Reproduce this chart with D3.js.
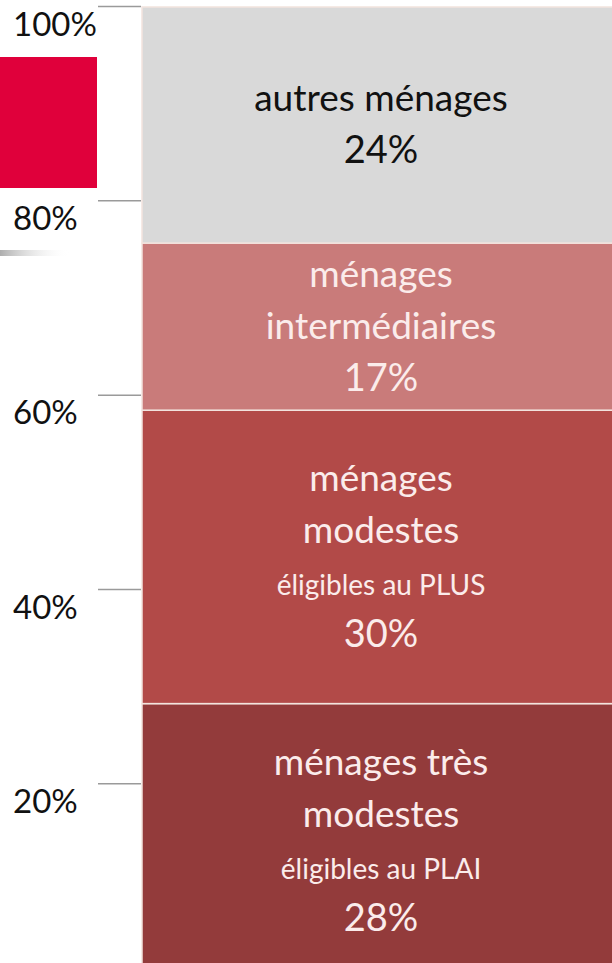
<!DOCTYPE html>
<html>
<head>
<meta charset="utf-8">
<script src="https://cdn.jsdelivr.net/npm/d3@7"></script>
<style>
  body { margin: 0; background: #fff; }
  svg { display: block; font-family: Lato, "Open Sans", sans-serif; }
</style>
</head>
<body>
<div class="chart"></div>
<script>
// data, bottom -> top
const segments = ['tres_modestes', 'modestes', 'intermediaires', 'autres'];
const shares = [28.2, 30.2, 17.2, 24.3];
const labelLines = [
    ['ménages très', 'modestes'],
    ['ménages', 'modestes'],
    ['ménages', 'intermédiaires'],
    ['autres ménages']
];
const labelSub = ['éligibles au PLAI', 'éligibles au PLUS', '', ''];
const colors = ['#933b3b', '#b24a48', '#c97b7a', '#d9d9d9'];
const textColors = ['#fbeceb', '#fbeceb', '#fbeceb', '#111'];
const tickValues = [20, 40, 60, 80, 100];

const width = 612, height = 963;

const svg = d3.select('.chart').append('svg')
    .attr('width', width).attr('height', height);

const y = d3.scaleLinear().domain([0, 100]).range([977.6, 6]);
const x = d3.scaleBand().domain(['bar']).range([142, 620]);

// stacked data
const row = {};
segments.forEach((s, i) => row[s] = shares[i]);
const stack = d3.stack().keys(segments)([row]);

// decorative red block on the left
svg.append('rect')
    .attr('x', 0).attr('y', 57).attr('width', 97).attr('height', 131)
    .style('fill', '#e0003b');

// soft shadow under the 80% label
const grad = svg.append('defs').append('linearGradient').attr('id', 'shadow');
grad.append('stop').attr('offset', '0%').attr('stop-color', '#999').attr('stop-opacity', 0.8);
grad.append('stop').attr('offset', '100%').attr('stop-color', '#fff').attr('stop-opacity', 0);
svg.append('rect')
    .attr('x', 0).attr('y', 250).attr('width', 70).attr('height', 6)
    .style('fill', 'url(#shadow)');

// axis
const yAxis = d3.axisLeft(y).tickValues(tickValues)
    .tickSize(43).tickFormat(d => d + '%');
const yAxisDraw = svg.append('g').attr('class', 'y axis')
    .attr('transform', 'translate(141,0)')
    .call(yAxis);
yAxisDraw.select('.domain').remove();
yAxisDraw.selectAll('line').style('stroke', '#9a9a9a').style('stroke-width', 1.5);
yAxisDraw.selectAll('text')
    .attr('x', -128).attr('dy', '21').attr('text-anchor', 'start')
    .attr('dominant-baseline', 'middle')
    .style('font-family', 'Lato, sans-serif')
    .style('font-size', '33px').style('fill', '#111');

// bars
const groups = svg.selectAll('.seg')
    .data(stack)
    .enter()
    .append('g').attr('class', 'seg');

groups.append('rect')
    .attr('x', x('bar'))
    .attr('y', d => y(d[0][1]))
    .attr('width', x.bandwidth())
    .attr('height', d => y(d[0][0]) - y(d[0][1]))
    .style('fill', (d, i) => colors[i])
    .style('stroke', '#f3e4de').style('stroke-width', 1.5);

// labels
const lineH = 52;
groups.each(function (d, i) {
    const cy = (y(d[0][0]) + y(d[0][1])) / 2;
    const lines = labelLines[i].map(t => ({ t: t, size: 37 }));
    if (labelSub[i]) lines.push({ t: labelSub[i], size: 28 });
    lines.push({ t: d3.format('.0f')(shares[i]) + '%', size: 38 });
    const n = lines.length;
    const text = d3.select(this).append('text')
        .attr('text-anchor', 'middle')
        .style('fill', textColors[i]);
    lines.forEach((l, j) => {
        text.append('tspan')
            .attr('x', x('bar') + x.bandwidth() / 2)
            .attr('y', cy + (j - (n - 1) / 2) * lineH + 12)
            .style('font-size', l.size + 'px')
            .text(l.t);
    });
});
</script>
</body>
</html>
